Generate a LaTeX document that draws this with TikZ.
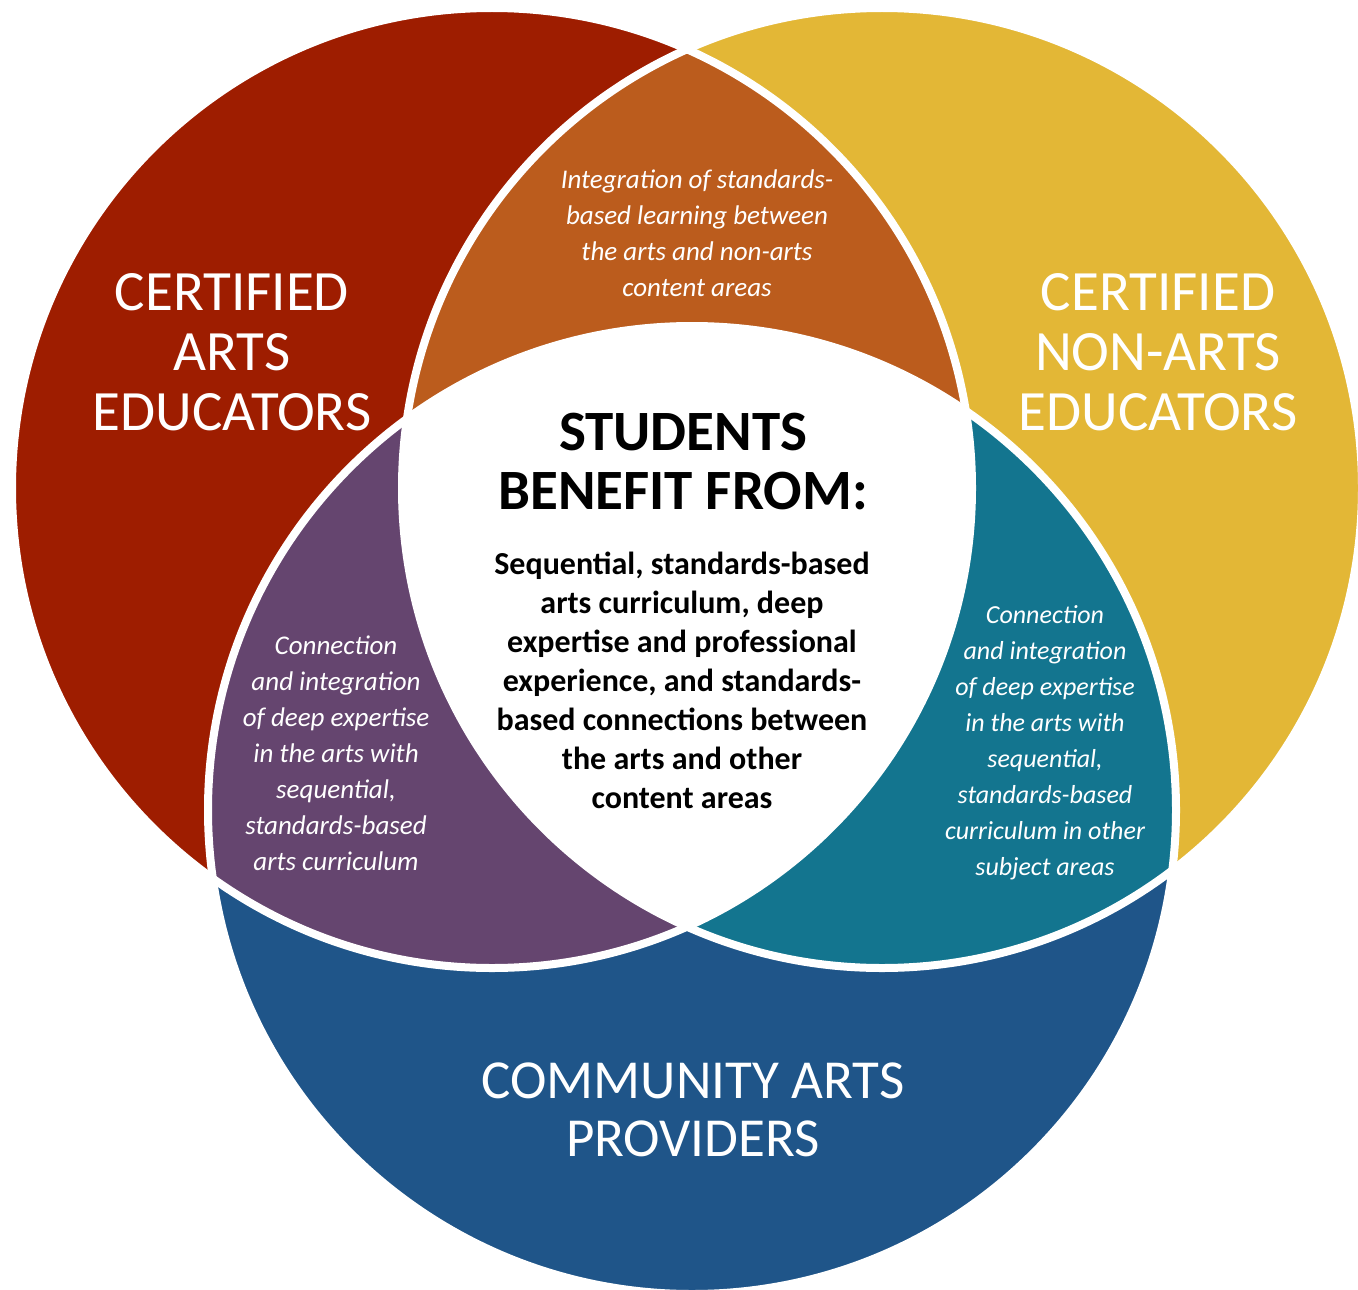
\documentclass[tikz,border=0pt]{standalone}
\usepackage{fontspec}
\setmainfont{Carlito}
\definecolor{cred}{HTML}{9E1D00}
\definecolor{cyellow}{HTML}{E3B736}
\definecolor{cblue}{HTML}{1F5589}
\definecolor{corange}{HTML}{BB5C1D}
\definecolor{cpurple}{HTML}{65456F}
\definecolor{cteal}{HTML}{13758F}
\newcommand\circL{(492,488) circle [radius=480pt]}
\newcommand\circR{(882,488) circle [radius=480pt]}
\newcommand\circB{(692,810) circle [radius=484pt]}
\begin{document}
\begin{tikzpicture}[x=1pt,y=-1pt,
  biglabel/.style={text=white, align=center, inner sep=0pt, anchor=north, font=\fontsize{57}{60}\selectfont},
  headlabel/.style={text=black, align=center, inner sep=0pt, anchor=north, font=\fontsize{57}{59}\selectfont\bfseries},
  bodylabel/.style={text=black, align=center, inner sep=0pt, anchor=north, font=\fontsize{32}{39}\selectfont\bfseries},
  itlabel/.style={text=white, align=center, inner sep=0pt, anchor=north, font=\fontsize{27}{36}\selectfont\itshape},
  sep/.style={draw=white, line width=8pt}]
\useasboundingbox (0,0) rectangle (1358,1290);
\clip (0,0) rectangle (1358,1290);
% base circles
\fill[cred] \circL;
\fill[cyellow] \circR;
\fill[cblue] \circB;
% pairwise overlaps
\begin{scope}\clip \circL; \fill[corange] \circR;\end{scope}
\begin{scope}\clip \circL; \fill[cpurple] \circB;\end{scope}
\begin{scope}\clip \circR; \fill[cteal] \circB;\end{scope}
% centre
\begin{scope}\clip \circL; \clip \circR; \fill[white] \circB;\end{scope}
% white separators
\draw[sep] \circL;
\draw[sep] \circR;
\draw[sep] \circB;
% labels
\node[biglabel] (cae) at (232,273) {CERTIFIED\\ARTS\\EDUCATORS};
\node[biglabel] (cnae) at (1158,273) {CERTIFIED\\NON-ARTS\\EDUCATORS};
\node[biglabel, font=\fontsize{55}{58}\selectfont] (cap) at (693,1063) {COMMUNITY ARTS\\PROVIDERS};
\node[headlabel] (head) at (683,413) {STUDENTS\\BENEFIT FROM:};
\node[bodylabel] (body) at (682,552) {Sequential, standards-based\\arts curriculum, deep\\expertise and professional\\experience, and standards-\\based connections between\\the arts and other\\content areas};
\node[itlabel] (integ) at (697,170) {Integration of standards-\\based learning between\\the arts and non-arts\\content areas};
\node[itlabel] (conn1) at (336,636) {Connection\\and integration\\of deep expertise\\in the arts with\\sequential,\\standards-based\\arts curriculum};
\node[itlabel, font=\fontsize{26}{36}\selectfont\itshape] (conn2) at (1045,605) {Connection\\and integration\\of deep expertise\\in the arts with\\sequential,\\standards-based\\curriculum in other\\subject areas};
\end{tikzpicture}
\end{document}
